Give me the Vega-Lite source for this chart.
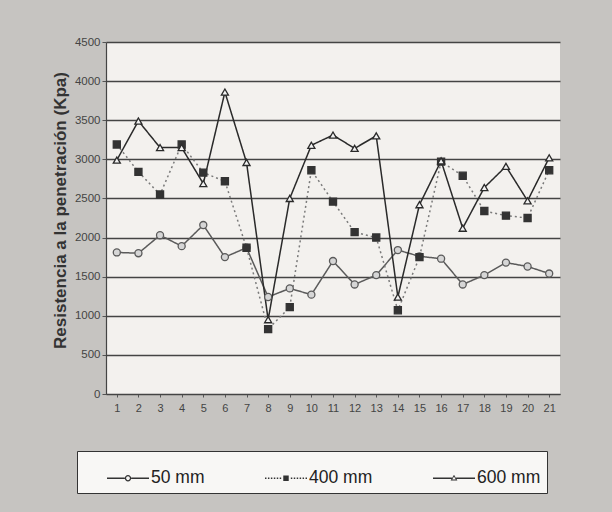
{
  "$schema": "https://vega.github.io/schema/vega-lite/v6.json",
  "autosize": {"type": "none"},
  "width": 454,
  "height": 352,
  "padding": {"left": 106, "top": 42, "right": 52, "bottom": 118},
  "background": "#c6c4c1",
  "config": {
    "view": {"fill": "#f3f1ee", "stroke": null},
    "font": "Liberation Sans",
    "axis": {"labelFont": "Liberation Sans", "titleFont": "Liberation Sans"}
  },
  "data": {
    "values": [
      {"x": 1, "series": "50 mm", "value": 1810},
      {"x": 2, "series": "50 mm", "value": 1800},
      {"x": 3, "series": "50 mm", "value": 2030},
      {"x": 4, "series": "50 mm", "value": 1890},
      {"x": 5, "series": "50 mm", "value": 2160},
      {"x": 6, "series": "50 mm", "value": 1750},
      {"x": 7, "series": "50 mm", "value": 1870},
      {"x": 8, "series": "50 mm", "value": 1240},
      {"x": 9, "series": "50 mm", "value": 1350},
      {"x": 10, "series": "50 mm", "value": 1270},
      {"x": 11, "series": "50 mm", "value": 1700},
      {"x": 12, "series": "50 mm", "value": 1400},
      {"x": 13, "series": "50 mm", "value": 1520},
      {"x": 14, "series": "50 mm", "value": 1840},
      {"x": 15, "series": "50 mm", "value": 1760},
      {"x": 16, "series": "50 mm", "value": 1730},
      {"x": 17, "series": "50 mm", "value": 1400},
      {"x": 18, "series": "50 mm", "value": 1520},
      {"x": 19, "series": "50 mm", "value": 1680},
      {"x": 20, "series": "50 mm", "value": 1630},
      {"x": 21, "series": "50 mm", "value": 1540},
      {"x": 1, "series": "400 mm", "value": 3190},
      {"x": 2, "series": "400 mm", "value": 2840},
      {"x": 3, "series": "400 mm", "value": 2550},
      {"x": 4, "series": "400 mm", "value": 3190},
      {"x": 5, "series": "400 mm", "value": 2830},
      {"x": 6, "series": "400 mm", "value": 2720},
      {"x": 7, "series": "400 mm", "value": 1870},
      {"x": 8, "series": "400 mm", "value": 830},
      {"x": 9, "series": "400 mm", "value": 1110},
      {"x": 10, "series": "400 mm", "value": 2860},
      {"x": 11, "series": "400 mm", "value": 2460},
      {"x": 12, "series": "400 mm", "value": 2070},
      {"x": 13, "series": "400 mm", "value": 2000},
      {"x": 14, "series": "400 mm", "value": 1070},
      {"x": 15, "series": "400 mm", "value": 1750},
      {"x": 16, "series": "400 mm", "value": 2970},
      {"x": 17, "series": "400 mm", "value": 2790},
      {"x": 18, "series": "400 mm", "value": 2340},
      {"x": 19, "series": "400 mm", "value": 2280},
      {"x": 20, "series": "400 mm", "value": 2250},
      {"x": 21, "series": "400 mm", "value": 2860},
      {"x": 1, "series": "600 mm", "value": 2990},
      {"x": 2, "series": "600 mm", "value": 3490},
      {"x": 3, "series": "600 mm", "value": 3150},
      {"x": 4, "series": "600 mm", "value": 3150},
      {"x": 5, "series": "600 mm", "value": 2690},
      {"x": 6, "series": "600 mm", "value": 3860},
      {"x": 7, "series": "600 mm", "value": 2960},
      {"x": 8, "series": "600 mm", "value": 950},
      {"x": 9, "series": "600 mm", "value": 2500},
      {"x": 10, "series": "600 mm", "value": 3180},
      {"x": 11, "series": "600 mm", "value": 3310},
      {"x": 12, "series": "600 mm", "value": 3140},
      {"x": 13, "series": "600 mm", "value": 3300},
      {"x": 14, "series": "600 mm", "value": 1240},
      {"x": 15, "series": "600 mm", "value": 2420},
      {"x": 16, "series": "600 mm", "value": 2980},
      {"x": 17, "series": "600 mm", "value": 2120},
      {"x": 18, "series": "600 mm", "value": 2640},
      {"x": 19, "series": "600 mm", "value": 2910},
      {"x": 20, "series": "600 mm", "value": 2470},
      {"x": 21, "series": "600 mm", "value": 3020}
    ]
  },
  "encoding": {
    "x": {
      "field": "x",
      "type": "ordinal",
      "axis": {
        "title": null,
        "labelAngle": 0,
        "labelFontSize": 11,
        "labelColor": "#444",
        "labelPadding": 5,
        "tickSize": 3,
        "tickColor": "#555",
        "domainColor": "#444",
        "domainWidth": 1.2
      }
    },
    "y": {
      "field": "value",
      "type": "quantitative",
      "scale": {"domain": [0, 4500], "nice": false},
      "axis": {
        "title": "Resistencia a la penetración (Kpa)",
        "titleFontSize": 17,
        "titleFontWeight": "bold",
        "titleColor": "#333",
        "titlePadding": 5,
        "titleY": 168,
        "values": [0, 500, 1000, 1500, 2000, 2500, 3000, 3500, 4000, 4500],
        "format": "d",
        "labelFontSize": 11.5,
        "labelColor": "#444",
        "labelPadding": 2,
        "tickSize": 4,
        "tickColor": "#555",
        "domainColor": "#444",
        "domainWidth": 1.2,
        "gridColor": "#444",
        "gridWidth": 1.3,
        "gridOpacity": 1
      }
    }
  },
  "layer": [
    {
      "mark": {"type": "line", "strokeWidth": 1.5},
      "encoding": {
        "detail": {"field": "series"},
        "color": {
          "field": "series",
          "scale": {"domain": ["50 mm", "400 mm", "600 mm"], "range": ["#5a5a5a", "#7a7a7a", "#2a2a2a"]},
          "legend": null
        },
        "strokeDash": {
          "field": "series",
          "scale": {"domain": ["50 mm", "400 mm", "600 mm"], "range": [[1, 0], [2, 3], [1, 0]]},
          "legend": null
        }
      }
    },
    {
      "mark": {"type": "point", "filled": true, "strokeWidth": 1.3, "opacity": 1},
      "encoding": {
        "shape": {
          "field": "series",
          "scale": {"domain": ["50 mm", "400 mm", "600 mm"], "range": ["circle", "square", "triangle-up"]},
          "legend": null
        },
        "fill": {
          "field": "series",
          "scale": {"domain": ["50 mm", "400 mm", "600 mm"], "range": ["#d6d6d6", "#333333", "#f2f2f2"]},
          "legend": null
        },
        "stroke": {
          "field": "series",
          "scale": {"domain": ["50 mm", "400 mm", "600 mm"], "range": ["#5a5a5a", "#333333", "#2a2a2a"]},
          "legend": null
        },
        "size": {"value": 50}
      }
    },
    {
      "mark": {"type": "point", "filled": true, "opacity": 0, "color": "#333"},
      "encoding": {
        "shape": {
          "field": "series",
          "scale": {
            "domain": ["50 mm", "400 mm", "600 mm"],
            "range": [
              "M-1,-0.03H-0.15V0.03H-1Z M0.15,-0.03H1V0.03H0.15Z M-0.15,0A0.15,0.15 0 1,1 0.15,0A0.15,0.15 0 1,1 -0.15,0Z M-0.09,0A0.09,0.09 0 1,0 0.09,0A0.09,0.09 0 1,0 -0.09,0Z",
              "M-1,-0.035h0.07v0.07h-0.07Z M-0.86,-0.035h0.07v0.07h-0.07Z M-0.72,-0.035h0.07v0.07h-0.07Z M-0.58,-0.035h0.07v0.07h-0.07Z M-0.44,-0.035h0.07v0.07h-0.07Z M-0.3,-0.035h0.07v0.07h-0.07Z M-0.13,-0.13H0.13V0.13H-0.13Z M0.23,-0.035h0.07v0.07h-0.07Z M0.37,-0.035h0.07v0.07h-0.07Z M0.51,-0.035h0.07v0.07h-0.07Z M0.65,-0.035h0.07v0.07h-0.07Z M0.79,-0.035h0.07v0.07h-0.07Z M0.93,-0.035h0.07v0.07h-0.07Z",
              "M-1,-0.03H-0.1V0.03H-1Z M0.1,-0.03H1V0.03H0.1Z M0,-0.17L0.16,0.11L-0.16,0.11Z M0,-0.08L-0.085,0.065L0.085,0.065Z"
            ]
          },
          "legend": {
            "title": " ",
            "titleOrient": "left",
            "titleFontSize": 10,
            "titlePadding": 24,
            "orient": "none",
            "legendX": -29,
            "legendY": 409,
            "direction": "horizontal",
            "strokeColor": "#333",
            "fillColor": "#f8f7f5",
            "padding": 6,
            "columnPadding": 60,
            "symbolSize": 1764,
            "symbolFillColor": "#333",
            "symbolStrokeWidth": 0,
            "symbolOpacity": 1,
            "labelFontSize": 17.5,
            "labelColor": "#222",
            "labelOffset": 2,
            "labelFont": "Liberation Sans"
          }
        }
      }
    }
  ],
  "resolve": {"scale": {"shape": "independent"}, "legend": {"shape": "independent"}}
}
